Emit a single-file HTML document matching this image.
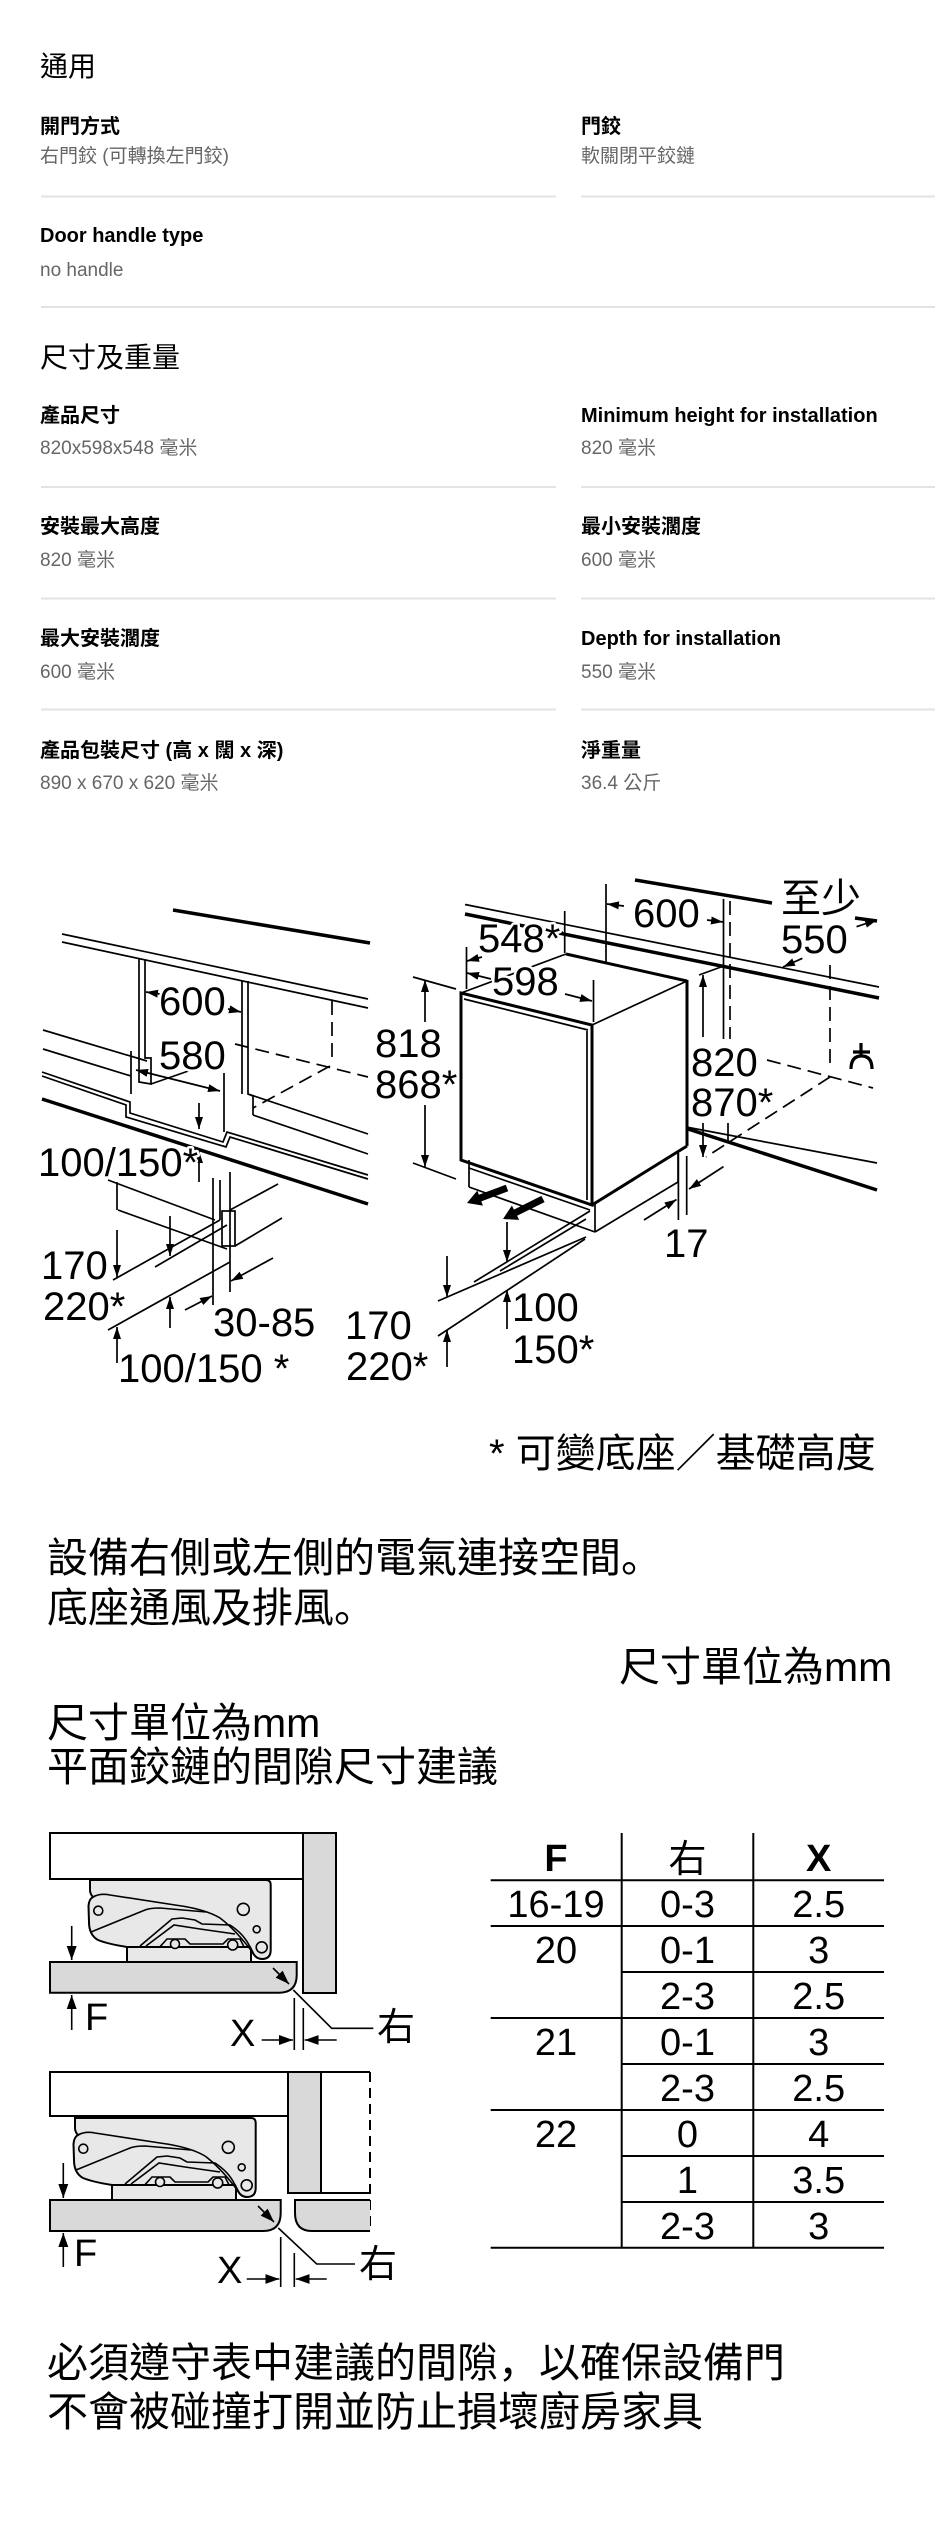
<!DOCTYPE html>
<html><head><meta charset="utf-8">
<style>
html,body{margin:0;padding:0;background:#fff;}
svg{display:block;}
.f{font-family:"Liberation Sans","Noto Sans CJK TC",sans-serif;}
.d{font-family:"Liberation Sans","Noto Sans CJK TC",sans-serif;font-size:40px;fill:#000;paint-order:stroke;stroke:#fff;stroke-width:5px;stroke-linejoin:round;}
.lb{font-size:20px;font-weight:bold;fill:#000;}
.vl{font-size:19px;fill:#666;}
.p{font-size:41px;fill:#000;}
.tb{font-size:38px;fill:#000;}
.sc{font-family:"Noto Sans CJK SC",sans-serif;}
</style></head>
<body>
<svg width="951" height="2532" viewBox="0 0 951 2532" xmlns="http://www.w3.org/2000/svg" class="f">
<defs>
<marker id="a" viewBox="0 0 12 8" refX="12" refY="4" markerWidth="12" markerHeight="8" markerUnits="userSpaceOnUse" orient="auto"><path d="M0,0 L12,4 L0,8 Z" fill="#000"/></marker>
<marker id="b" viewBox="0 0 12 8" refX="12" refY="4" markerWidth="12" markerHeight="8" markerUnits="userSpaceOnUse" orient="auto-start-reverse"><path d="M0,0 L12,4 L0,8 Z" fill="#000"/></marker>
<marker id="h" viewBox="0 0 14 10" refX="14" refY="5" markerWidth="14" markerHeight="10" markerUnits="userSpaceOnUse" orient="auto"><path d="M0,0 L14,5 L0,10 Z" fill="#000"/></marker>
</defs>

<!-- ===== TOP SPEC SECTION ===== -->
<text x="40" y="76" font-size="28" fill="#000">通用</text>
<text x="40" y="133" class="lb">開門方式</text>
<text x="581" y="133" class="lb">門鉸</text>
<text x="40" y="162" class="vl">右門鉸 (可轉換左門鉸)</text>
<text x="581" y="162" class="vl">軟關閉平鉸鏈</text>
<line x1="41" y1="196.5" x2="556" y2="196.5" stroke="#e3e3e3" stroke-width="2"/>
<line x1="581" y1="196.5" x2="935" y2="196.5" stroke="#e3e3e3" stroke-width="2"/>
<text x="40" y="242" class="lb">Door handle type</text>
<text x="40" y="276" class="vl">no handle</text>
<line x1="41" y1="307" x2="935" y2="307" stroke="#e3e3e3" stroke-width="2"/>

<text x="40" y="367" font-size="28" fill="#000">尺寸及重量</text>
<text x="40" y="422" class="lb">產品尺寸</text>
<text x="581" y="422" class="lb">Minimum height for installation</text>
<text x="40" y="454" class="vl">820x598x548 毫米</text>
<text x="581" y="454" class="vl">820 毫米</text>
<line x1="41" y1="487" x2="556" y2="487" stroke="#e3e3e3" stroke-width="2"/>
<line x1="581" y1="487" x2="935" y2="487" stroke="#e3e3e3" stroke-width="2"/>

<text x="40" y="533" class="lb">安裝最大高度</text>
<text x="581" y="533" class="lb">最小安裝濶度</text>
<text x="40" y="566" class="vl">820 毫米</text>
<text x="581" y="566" class="vl">600 毫米</text>
<line x1="41" y1="598.5" x2="556" y2="598.5" stroke="#e3e3e3" stroke-width="2"/>
<line x1="581" y1="598.5" x2="935" y2="598.5" stroke="#e3e3e3" stroke-width="2"/>

<text x="40" y="645" class="lb">最大安裝濶度</text>
<text x="581" y="645" class="lb">Depth for installation</text>
<text x="40" y="678" class="vl">600 毫米</text>
<text x="581" y="678" class="vl">550 毫米</text>
<line x1="41" y1="709.5" x2="556" y2="709.5" stroke="#e3e3e3" stroke-width="2"/>
<line x1="581" y1="709.5" x2="935" y2="709.5" stroke="#e3e3e3" stroke-width="2"/>

<text x="40" y="757" class="lb">產品包裝尺寸 (高 x 闊 x 深)</text>
<text x="581" y="757" class="lb">淨重量</text>
<text x="40" y="789" class="vl">890 x 670 x 620 毫米</text>
<text x="581" y="789" class="vl">36.4 公斤</text>

<!-- ===== INSTALLATION DIAGRAM ===== -->
<g stroke="#000" fill="none" stroke-width="1.7">
  <!-- left niche -->
  <line x1="173" y1="910" x2="370" y2="943" stroke-width="3.5"/>
  <line x1="62" y1="934" x2="368" y2="999"/>
  <line x1="62" y1="942" x2="368" y2="1008"/>
  <polyline points="139,958 139,1082 151,1084 151,1058 145,1058 145,959"/>
  <line x1="242" y1="980" x2="242" y2="1094"/>
  <polyline points="248,981 248,1094 253,1096 253,1115"/>
  <line x1="248" y1="1094" x2="368" y2="1134"/>
  <line x1="253" y1="1115" x2="368" y2="1154"/>
  <g stroke-dasharray="14 7">
    <line x1="332" y1="1001" x2="332" y2="1063"/>
    <line x1="235" y1="1044" x2="368" y2="1077"/>
    <line x1="330" y1="1066" x2="253" y2="1108"/>
  </g>
  <line x1="43" y1="1030" x2="147" y2="1061"/>
  <line x1="43" y1="1049" x2="131" y2="1076"/>
  <polyline points="42,1072 130,1102 130,1113 223,1142 227,1132 368,1175"/>
  <polyline points="42,1076 126,1105 126,1117 226,1147 230,1137 368,1179"/>
  <line x1="42" y1="1099" x2="368" y2="1204" stroke-width="3.5"/>
  <line x1="131" y1="1051" x2="131" y2="1094"/>
  <line x1="224" y1="1073" x2="224" y2="1132"/>
  <line x1="136" y1="1070" x2="220" y2="1091" marker-start="url(#b)" marker-end="url(#b)"/>
  <line x1="151" y1="1084" x2="197" y2="1068"/>
  <line x1="160" y1="994" x2="146" y2="992" marker-end="url(#a)"/>
  <line x1="228" y1="1009" x2="241" y2="1012" marker-end="url(#a)"/>
  <line x1="199" y1="1103" x2="199" y2="1129" marker-end="url(#a)"/>
  <line x1="199" y1="1182" x2="199" y2="1151" marker-end="url(#a)"/>
  <!-- left lower detail -->
  <line x1="108" y1="1180" x2="215" y2="1220"/>
  <line x1="117" y1="1182" x2="117" y2="1210"/>
  <line x1="118" y1="1210" x2="227" y2="1249"/>
  <line x1="213" y1="1178" x2="213" y2="1305"/>
  <line x1="220" y1="1180" x2="220" y2="1220"/>
  <line x1="230" y1="1172" x2="230" y2="1292"/>
  <rect x="222" y="1211" width="13" height="35"/>
  <line x1="230" y1="1210" x2="278" y2="1184"/>
  <line x1="235" y1="1246" x2="282" y2="1218"/>
  <line x1="113" y1="1280" x2="220" y2="1220"/>
  <line x1="155" y1="1267" x2="227" y2="1225"/>
  <line x1="108" y1="1330" x2="230" y2="1262"/>
  <line x1="117" y1="1230" x2="117" y2="1277" marker-end="url(#a)"/>
  <line x1="170" y1="1216" x2="170" y2="1256" marker-end="url(#a)"/>
  <line x1="170" y1="1328" x2="170" y2="1297" marker-end="url(#a)"/>
  <line x1="117" y1="1363" x2="117" y2="1327" marker-end="url(#a)"/>
  <line x1="185" y1="1310" x2="212" y2="1296" marker-end="url(#a)"/>
  <line x1="273" y1="1258" x2="231" y2="1281" marker-end="url(#a)"/>

  <!-- right installation -->
  <line x1="635" y1="880" x2="772" y2="903" stroke-width="3.5"/>
  <line x1="855" y1="918" x2="877" y2="921" stroke-width="3.5"/>
  <line x1="465" y1="904.5" x2="879" y2="987"/>
  <line x1="465" y1="914" x2="879" y2="998" stroke-width="3.5"/>
  <!-- box -->
  <polygon points="461,993 592,1025 592,1205 461,1160" fill="#fff" stroke-width="3"/>
  <line x1="464" y1="999" x2="588" y2="1030"/>
  <line x1="587" y1="1031" x2="587" y2="1200"/>
  <line x1="461" y1="993" x2="566" y2="954"/>
  <line x1="566" y1="954" x2="687" y2="981" stroke-width="3"/>
  <line x1="687" y1="981" x2="592" y2="1025"/>
  <line x1="687" y1="980" x2="687" y2="1146" stroke-width="3"/>
  <line x1="687" y1="1146" x2="592" y2="1205" stroke-width="3"/>
  <line x1="469" y1="1160" x2="469" y2="1187"/>
  <line x1="469" y1="1168" x2="590" y2="1210"/>
  <line x1="469" y1="1187" x2="595" y2="1232"/>
  <line x1="595" y1="1203" x2="595" y2="1232"/>
  <line x1="678" y1="1152" x2="678" y2="1182"/>
  <line x1="678" y1="1182" x2="595" y2="1232"/>
  <!-- floor -->
  <line x1="590" y1="1211" x2="474" y2="1282"/>
  <line x1="586" y1="1219" x2="500" y2="1271"/>
  <line x1="586" y1="1237" x2="438" y2="1301"/>
  <line x1="585" y1="1239" x2="438" y2="1336"/>
  <line x1="507" y1="1222" x2="507" y2="1262" marker-end="url(#a)"/>
  <line x1="507" y1="1329" x2="507" y2="1290" marker-end="url(#a)"/>
  <line x1="447" y1="1256" x2="447" y2="1297" marker-end="url(#a)"/>
  <line x1="447" y1="1367" x2="447" y2="1330" marker-end="url(#a)"/>
  <!-- 818 -->
  <line x1="413" y1="977" x2="456" y2="989"/>
  <line x1="413" y1="1163" x2="456" y2="1179"/>
  <line x1="425" y1="1022" x2="425" y2="980" marker-end="url(#a)"/>
  <line x1="425" y1="1105" x2="425" y2="1167" marker-end="url(#a)"/>
  <!-- 548 / 598 / 600 -->
  <line x1="466.5" y1="947" x2="466.5" y2="989"/>
  <line x1="564.7" y1="911" x2="564.7" y2="953"/>
  <line x1="593.5" y1="980" x2="593.5" y2="1022"/>
  <line x1="606" y1="884" x2="606" y2="963"/>
  <line x1="552" y1="934" x2="563" y2="932" marker-end="url(#a)"/>
  <line x1="482" y1="957" x2="467" y2="961" marker-end="url(#a)"/>
  <line x1="491" y1="979" x2="467" y2="973" marker-end="url(#a)"/>
  <line x1="565" y1="994" x2="592" y2="1001" marker-end="url(#a)"/>
  <line x1="624" y1="906" x2="607" y2="904" marker-end="url(#a)"/>
  <line x1="707" y1="920" x2="723" y2="922" marker-end="url(#a)"/>
  <line x1="723.5" y1="899" x2="723.5" y2="1039"/>
  <line x1="730" y1="901" x2="730" y2="1039" stroke-dasharray="14 7"/>
  <!-- 820 / 870 -->
  <line x1="699" y1="975" x2="721" y2="967"/>
  <line x1="703" y1="1037" x2="703" y2="975" marker-end="url(#a)"/>
  <line x1="703" y1="1123" x2="703" y2="1157" marker-end="url(#a)"/>
  <line x1="728" y1="1123" x2="728" y2="1143"/>
  <line x1="686" y1="1127" x2="877" y2="1163"/>
  <line x1="688" y1="1129" x2="877" y2="1190" stroke-width="3.5"/>
  <g stroke-dasharray="14 7">
    <line x1="767" y1="1060" x2="873" y2="1088"/>
    <line x1="830" y1="965" x2="830" y2="1063"/>
    <line x1="830" y1="1077" x2="706" y2="1157"/>
  </g>
  <!-- 17 -->
  <line x1="678.4" y1="1153" x2="678.4" y2="1220"/>
  <line x1="686.7" y1="1156" x2="686.7" y2="1215"/>
  <line x1="644" y1="1220" x2="676.5" y2="1199.5" marker-end="url(#a)"/>
  <line x1="723.5" y1="1166.6" x2="689" y2="1189" marker-end="url(#a)"/>
  <!-- 550 -->
  <line x1="856.5" y1="926.7" x2="877" y2="920" marker-end="url(#a)"/>
  <line x1="802.4" y1="958.3" x2="783" y2="967" marker-end="url(#a)"/>
  <!-- tap symbol -->
  <path d="M861,1043 V1056 M853,1052 H870 M851,1069 Q851,1056 861.5,1056 Q872,1056 872,1069" stroke-width="3.2"/>
</g>
<!-- vent arrows -->
<polygon points="508.2,1191.3 481.3,1201.4 482.9,1205.6 467,1203 477.3,1190.6 478.9,1194.8 505.8,1184.7" fill="#000"/>
<polygon points="544.6,1202.1 517.1,1215.8 519.1,1219.9 503,1219 511.9,1205.5 513.9,1209.6 541.4,1195.9" fill="#000"/>

<!-- diagram labels -->
<text class="d" x="159" y="1015">600</text>
<text class="d" x="159" y="1069">580</text>
<text class="d" x="38" y="1176">100/150*</text>
<text class="d" x="41" y="1279">170</text>
<text class="d" x="43" y="1320">220*</text>
<text class="d" x="213" y="1336">30-85</text>
<text class="d" x="118" y="1382">100/150 *</text>
<text class="d" x="345" y="1339">170</text>
<text class="d" x="346" y="1380">220*</text>
<text class="d" x="478" y="952">548*</text>
<text class="d" x="492" y="995">598</text>
<text class="d" x="633" y="927">600</text>
<text class="d" x="781" y="912">至少</text>
<text class="d" x="781" y="953">550</text>
<text class="d" x="375" y="1057">818</text>
<text class="d" x="375" y="1098">868*</text>
<text class="d" x="691" y="1076">820</text>
<text class="d" x="691" y="1116">870*</text>
<text class="d" x="664" y="1257">17</text>
<text class="d" x="512" y="1321">100</text>
<text class="d" x="512" y="1363">150*</text>
<text x="489" y="1467" font-size="40" fill="#000">* 可變底座／基礎高度</text>

<!-- ===== PARAGRAPHS ===== -->
<text x="47" y="1572" class="p">設備右側或左側的電氣連接空間<tspan class="sc">。</tspan></text>
<text x="47" y="1622" class="p">底座通風及排風<tspan class="sc">。</tspan></text>
<text x="619" y="1681" class="p">尺寸單位為mm</text>
<text x="47" y="1737" class="p">尺寸單位為mm</text>
<text x="47" y="1781" class="p">平面鉸鏈的間隙尺寸建議</text>

<!-- ===== HINGE DRAWINGS ===== -->
<g id="hingeTop" stroke="#000" stroke-width="2">
  <rect x="50" y="1833" width="253" height="46" fill="#fff"/>
  <rect x="303" y="1833" width="33" height="160" fill="#d9d9d9"/>
  <path d="M50,1962 H296.7 V1975 Q296.7,1992.7 279,1992.7 H50 Z" fill="#d9d9d9"/>
  <rect x="127" y="1947" width="124" height="15" fill="#e8e8e8"/>
  <path d="M90,1880 H266 Q270.7,1880 270.7,1885 V1950 Q270.7,1959 262,1959 Q256,1959 253,1953 L250,1947 H127 Q108,1944 98,1940 Q89,1935 89,1922 L88.5,1906 Q89,1899 93,1897 Q90,1894 90,1890 Z" fill="#e8e8e8"/>
  <g fill="none" stroke-width="1.6">
    <path d="M93,1897 Q100,1893 110,1895 L175,1905 Q205,1909 220,1918 Q236,1930 253,1953"/>
    <path d="M91,1932 L145,1910 Q150,1908 160,1908 L206,1912"/>
    <path d="M140,1946 L172,1919 L182,1918 L195,1920 L202,1924 L230,1925 Q244,1934 250,1947"/>
    <path d="M146,1946 L174,1925 L200,1929 L235,1934"/>
    <path d="M160,1946.7 L167,1939 H185 L190,1944 H223 L228,1939 H240 L244,1946.7"/>
  </g>
  <g fill="#e8e8e8" stroke-width="1.6">
    <circle cx="98.3" cy="1910.7" r="4.5"/>
    <circle cx="243.3" cy="1909.3" r="6"/>
    <circle cx="256.7" cy="1929.3" r="3.5"/>
    <circle cx="175" cy="1944" r="4.5"/>
    <circle cx="232.7" cy="1945" r="5"/>
    <circle cx="261.7" cy="1947.3" r="5.5"/>
  </g>
</g>
<g stroke="#000" stroke-width="1.6" fill="none">
  <line x1="71.7" y1="1926" x2="71.7" y2="1960" marker-end="url(#h)"/>
  <line x1="71.7" y1="2030" x2="71.7" y2="1995" marker-end="url(#h)"/>
  <line x1="294.3" y1="1998" x2="294.3" y2="2050"/>
  <line x1="303.3" y1="2008" x2="303.3" y2="2050"/>
  <line x1="261.7" y1="2040" x2="293" y2="2040" marker-end="url(#h)"/>
  <line x1="336.7" y1="2040" x2="304.7" y2="2040" marker-end="url(#h)"/>
  <polyline points="293.3,1990 331.7,2028.3 373.3,2028.3"/>
  <line x1="273" y1="1968" x2="289" y2="1984" marker-end="url(#h)"/>
</g>
<text x="85" y="2030" class="tb">F</text>
<text x="230" y="2046" class="tb">X</text>
<text x="377" y="2040" class="tb">右</text>

<!-- bottom hinge -->
<g stroke="#000" stroke-width="2">
  <rect x="50" y="2072" width="238" height="44" fill="#fff"/>
  <rect x="288" y="2072" width="33" height="121" fill="#d9d9d9"/>
  <line x1="321" y1="2072" x2="370" y2="2072"/>
  <line x1="321" y1="2193" x2="370" y2="2193"/>
  <line x1="370" y1="2072" x2="370" y2="2231" stroke-dasharray="10 6"/>
  <path d="M50,2200 H280.7 V2213 Q280.7,2231 263,2231 H50 Z" fill="#d9d9d9"/>
  <path d="M370,2200 H295 V2213 Q295,2231 312,2231 H370 Z" fill="#d9d9d9" stroke="none"/>
  <path d="M370,2200 H295 V2213 Q295,2231 312,2231 H370" fill="none"/>
</g>
<g transform="translate(-15,238)" stroke="#000" stroke-width="2">
  <rect x="127" y="1947" width="124" height="15" fill="#e8e8e8"/>
  <path d="M90,1880 H266 Q270.7,1880 270.7,1885 V1950 Q270.7,1959 262,1959 Q256,1959 253,1953 L250,1947 H127 Q108,1944 98,1940 Q89,1935 89,1922 L88.5,1906 Q89,1899 93,1897 Q90,1894 90,1890 Z" fill="#e8e8e8"/>
  <g fill="none" stroke-width="1.6">
    <path d="M93,1897 Q100,1893 110,1895 L175,1905 Q205,1909 220,1918 Q236,1930 253,1953"/>
    <path d="M91,1932 L145,1910 Q150,1908 160,1908 L206,1912"/>
    <path d="M140,1946 L172,1919 L182,1918 L195,1920 L202,1924 L230,1925 Q244,1934 250,1947"/>
    <path d="M146,1946 L174,1925 L200,1929 L235,1934"/>
    <path d="M160,1946.7 L167,1939 H185 L190,1944 H223 L228,1939 H240 L244,1946.7"/>
  </g>
  <g fill="#e8e8e8" stroke-width="1.6">
    <circle cx="98.3" cy="1910.7" r="4.5"/>
    <circle cx="243.3" cy="1909.3" r="6"/>
    <circle cx="256.7" cy="1929.3" r="3.5"/>
    <circle cx="175" cy="1944" r="4.5"/>
    <circle cx="232.7" cy="1945" r="5"/>
    <circle cx="261.7" cy="1947.3" r="5.5"/>
  </g>
</g>
<g stroke="#000" stroke-width="1.6" fill="none">
  <line x1="63.3" y1="2163" x2="63.3" y2="2198" marker-end="url(#h)"/>
  <line x1="63.3" y1="2267" x2="63.3" y2="2233" marker-end="url(#h)"/>
  <line x1="280.7" y1="2237" x2="280.7" y2="2287"/>
  <line x1="294.3" y1="2253" x2="294.3" y2="2287"/>
  <line x1="246.7" y1="2279" x2="279.3" y2="2279" marker-end="url(#h)"/>
  <line x1="326.7" y1="2279" x2="295.7" y2="2279" marker-end="url(#h)"/>
  <polyline points="278.3,2228 316.7,2264 355,2264"/>
  <line x1="258" y1="2206" x2="274" y2="2222" marker-end="url(#h)"/>
</g>
<text x="74" y="2266" class="tb">F</text>
<text x="217" y="2283" class="tb">X</text>
<text x="359" y="2277" class="tb">右</text>

<!-- ===== TABLE ===== -->
<g stroke="#000" stroke-width="2">
  <line x1="621.7" y1="1833" x2="621.7" y2="2248"/>
  <line x1="753.3" y1="1833" x2="753.3" y2="2248"/>
  <line x1="490.7" y1="1880.3" x2="884" y2="1880.3"/>
  <line x1="490.7" y1="1926" x2="884" y2="1926"/>
  <line x1="621.7" y1="1972" x2="884" y2="1972"/>
  <line x1="490.7" y1="2018" x2="884" y2="2018"/>
  <line x1="621.7" y1="2064" x2="884" y2="2064"/>
  <line x1="490.7" y1="2110" x2="884" y2="2110"/>
  <line x1="621.7" y1="2156" x2="884" y2="2156"/>
  <line x1="621.7" y1="2202" x2="884" y2="2202"/>
  <line x1="490.7" y1="2247.7" x2="884" y2="2247.7"/>
</g>
<g class="tb" text-anchor="middle">
  <text x="556" y="1871" font-weight="bold">F</text>
  <text x="687.5" y="1872">右</text>
  <text x="818.7" y="1871" font-weight="bold">X</text>
  <text x="556" y="1917">16-19</text>
  <text x="556" y="1963">20</text>
  <text x="556" y="2055">21</text>
  <text x="556" y="2147">22</text>
  <text x="687.5" y="1917">0-3</text>
  <text x="687.5" y="1963">0-1</text>
  <text x="687.5" y="2009">2-3</text>
  <text x="687.5" y="2055">0-1</text>
  <text x="687.5" y="2101">2-3</text>
  <text x="687.5" y="2147">0</text>
  <text x="687.5" y="2193">1</text>
  <text x="687.5" y="2239">2-3</text>
  <text x="818.7" y="1917">2.5</text>
  <text x="818.7" y="1963">3</text>
  <text x="818.7" y="2009">2.5</text>
  <text x="818.7" y="2055">3</text>
  <text x="818.7" y="2101">2.5</text>
  <text x="818.7" y="2147">4</text>
  <text x="818.7" y="2193">3.5</text>
  <text x="818.7" y="2239">3</text>
</g>

<!-- ===== BOTTOM TEXT ===== -->
<text x="47" y="2377" class="p">必須遵守表中建議的間隙<tspan class="sc">，</tspan>以確保設備門</text>
<text x="47" y="2426" class="p">不會被碰撞打開並防止損壞廚房家具</text>
</svg>
</body></html>
